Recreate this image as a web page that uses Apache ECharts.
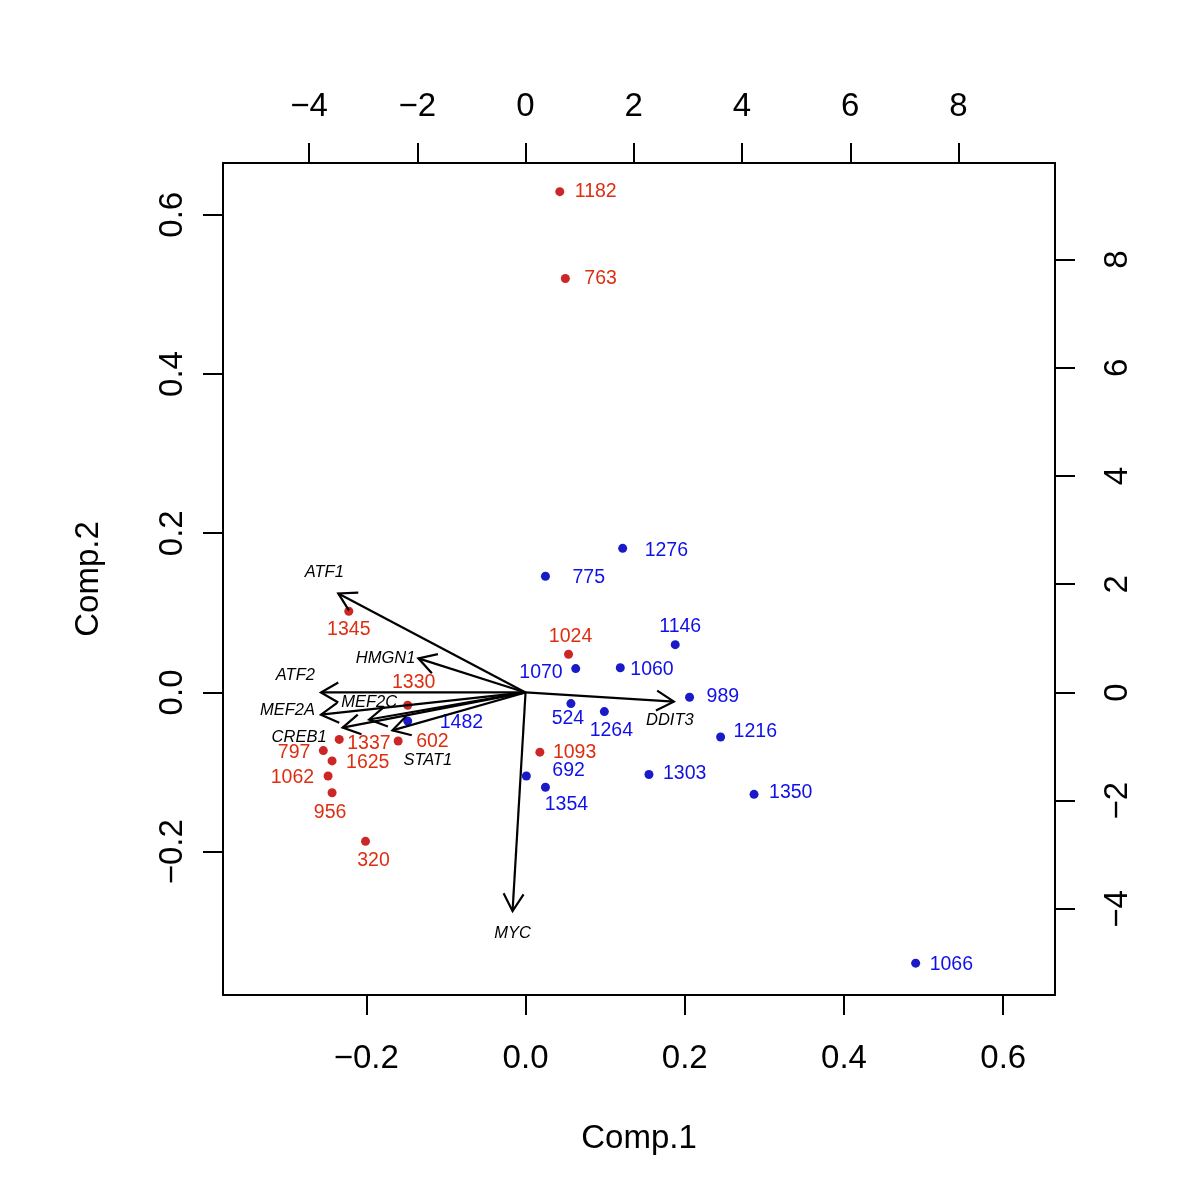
<!DOCTYPE html>
<html><head><meta charset="utf-8">
<script src="https://cdn.jsdelivr.net/npm/echarts@6/dist/echarts.min.js"></script>
<style>html,body{margin:0;padding:0;background:#fff}#c{width:1200px;height:1200px}</style>
</head><body><div id="c"></div>
<script>
// ---- Observation scores (Comp.1 / Comp.2, primary axes) ----
const redNames  = ['1182','763','1345','1024','1330','1337','602','797','1625','1062','956','320','1093'];
const redComp1  = [0.043,0.050,-0.222,0.054,-0.148,-0.234,-0.160,-0.254,-0.243,-0.248,-0.243,-0.201,0.018];
const redComp2  = [0.629,0.520,0.102,0.048,-0.016,-0.059,-0.061,-0.073,-0.086,-0.105,-0.126,-0.187,-0.075];
const blueNames = ['1276','775','1146','1070','1060','989','524','1264','1216','692','1354','1303','1350','1066','1482'];
const blueComp1 = [0.122,0.025,0.188,0.063,0.119,0.206,0.057,0.099,0.245,0.001,0.025,0.155,0.287,0.490,-0.148];
const blueComp2 = [0.181,0.146,0.060,0.030,0.031,-0.006,-0.014,-0.024,-0.056,-0.105,-0.119,-0.103,-0.128,-0.340,-0.036];
// ---- Variable loadings (secondary axes, top / right) ----
const varNames = ['ATF1','HMGN1','ATF2','MEF2A','MEF2C','CREB1','STAT1','DDIT3','MYC'];
const varComp1 = [-3.46,-1.98,-3.78,-3.78,-2.89,-3.38,-2.46,2.74,-0.24];
const varComp2 = [1.83,0.63,0.00,-0.41,-0.50,-0.65,-0.70,-0.17,-4.04];
// ---- Tick labels ----
const bottomTicks = [-0.2,0,0.2,0.4,0.6];
const leftTicks   = [-0.2,0,0.2,0.4,0.6];
const topTicks    = [-4,-2,0,2,4,6,8];
const rightTicks  = [-4,-2,0,2,4,6,8];

// ---- layout (label placement: align, dx, dy in px from mark) ----
const redLabelLayout = [
 ['left',15,0],['left',19,0],['center',0,18],['center',2,-18],['center',6,-23],
 ['left',8,4],['left',18,1],['right',-13,2],['left',14,2],['right',-14,2],
 ['center',-2,20],['center',8,19],['left',13,0]
];
const blueLabelLayout = [
 ['left',22,2],['left',27,1],['center',5,-18],['right',-13,4],['left',10,2],
 ['left',17,-1],['center',-3,15],['center',7,19],['left',13,-5],['left',26,-5],
 ['center',21,17],['left',14,-1],['left',15,-2],['left',14,1],['left',32,2]
];
const varLabelLayout = [
 ['center',-14,-21],['right',-3,0],['right',-6,-17],['right',-6,-4],['center',0,-17],
 ['right',-16,10],['left',11,30],['center',-4,19],['center',0,22]
];

const K = 14.71;                  // ratio secondary / primary scale
const LIM = [-0.38, 0.665];
const FONT = '"Liberation Sans", Arial, Helvetica, sans-serif';
const RED_PT = '#CD2626', RED_TX = '#DD2E12', BLUE_PT = '#1A1AC8', BLUE_TX = '#1010E8';

const minus = s => s.replace('-', '\u2212');
const fmt1 = v => minus((Math.abs(v) < 1e-9 ? 0 : v).toFixed(1));
const fmt0 = v => minus(String(Math.round(v)));

function pts(names, xs, ys, layout, color) {
  return names.map((n, i) => ({
    name: n, value: [xs[i], ys[i]],
    label: { align: layout[i][0], offset: [layout[i][1], layout[i][2]], color: color }
  }));
}

function axisCommon(extra) {
  return Object.assign({
    type: 'value',
    axisLine: { show: true, onZero: false, lineStyle: { color: '#000', width: 2 } },
    splitLine: { show: false },
    nameTextStyle: { fontFamily: FONT, fontSize: 33, color: '#000' }
  }, extra);
}

function renderArrow(params, api) {
  const x = api.value(0), y = api.value(1);
  const o = api.coord([0, 0]), t = api.coord([x, y]);
  const ang = Math.atan2(t[1] - o[1], t[0] - o[0]);
  const L = 20, a = Math.PI / 6;
  const h1 = [t[0] - L * Math.cos(ang - a), t[1] - L * Math.sin(ang - a)];
  const h2 = [t[0] - L * Math.cos(ang + a), t[1] - L * Math.sin(ang + a)];
  const lay = varLabelLayout[params.dataIndex];
  return { type: 'group', children: [
    { type: 'line', shape: { x1: o[0], y1: o[1], x2: t[0], y2: t[1] }, style: { stroke: '#000', lineWidth: 2.2 } },
    { type: 'polyline', shape: { points: [h1, t, h2] }, style: { stroke: '#000', lineWidth: 2.2, fill: null } },
    { type: 'text', x: t[0] + lay[1], y: t[1] + lay[2],
      style: { text: varNames[params.dataIndex], fontFamily: FONT, fontStyle: 'italic', fontSize: 16.5,
               fill: '#000', align: lay[0], verticalAlign: 'middle' } }
  ]};
}

const chart = echarts.init(document.getElementById('c'), null, { renderer: 'canvas' });
chart.setOption({
  animation: false,
  backgroundColor: '#fff',
  grid: { left: 223, right: 145, top: 163, bottom: 205, containLabel: false },
  xAxis: [
    axisCommon({ position: 'bottom', min: LIM[0], max: LIM[1],
      name: 'Comp.1', nameLocation: 'middle', nameGap: 127,
      axisTick: { show: true, length: 20, customValues: bottomTicks, lineStyle: { color: '#000', width: 2 } },
      axisLabel: { customValues: bottomTicks, formatter: fmt1, fontFamily: FONT, fontSize: 33, color: '#000', margin: 47 } }),
    axisCommon({ position: 'top', min: LIM[0] * K, max: LIM[1] * K,
      axisTick: { show: true, length: 20, customValues: topTicks, lineStyle: { color: '#000', width: 2 } },
      axisLabel: { customValues: topTicks, formatter: fmt0, fontFamily: FONT, fontSize: 33, color: '#000', margin: 40 } })
  ],
  yAxis: [
    axisCommon({ position: 'left', min: LIM[0], max: LIM[1],
      name: 'Comp.2', nameLocation: 'middle', nameGap: 118,
      axisTick: { show: true, length: 20, customValues: leftTicks, lineStyle: { color: '#000', width: 2 } },
      axisLabel: { customValues: leftTicks, formatter: fmt1, rotate: 90, fontFamily: FONT, fontSize: 33, color: '#000', margin: 34 } }),
    axisCommon({ position: 'right', min: LIM[0] * K, max: LIM[1] * K,
      axisTick: { show: true, length: 20, customValues: rightTicks, lineStyle: { color: '#000', width: 2 } },
      axisLabel: { customValues: rightTicks, formatter: fmt0, rotate: 90, fontFamily: FONT, fontSize: 33, color: '#000', margin: 46 } })
  ],
  series: [
    { type: 'scatter', xAxisIndex: 0, yAxisIndex: 0, symbol: 'circle', symbolSize: 9, z: 2,
      itemStyle: { color: RED_PT, opacity: 1 },
      label: { show: true, position: 'inside', formatter: '{b}', verticalAlign: 'middle', fontFamily: FONT, fontSize: 19.5 },
      data: pts(redNames, redComp1, redComp2, redLabelLayout, RED_TX) },
    { type: 'scatter', xAxisIndex: 0, yAxisIndex: 0, symbol: 'circle', symbolSize: 9, z: 2,
      itemStyle: { color: BLUE_PT, opacity: 1 },
      label: { show: true, position: 'inside', formatter: '{b}', verticalAlign: 'middle', fontFamily: FONT, fontSize: 19.5 },
      data: pts(blueNames, blueComp1, blueComp2, blueLabelLayout, BLUE_TX) },
    { type: 'custom', xAxisIndex: 1, yAxisIndex: 1, z: 3, renderItem: renderArrow,
      data: varComp1.map((v, i) => [v, varComp2[i]]) }
  ]
});
</script>
</body></html>
